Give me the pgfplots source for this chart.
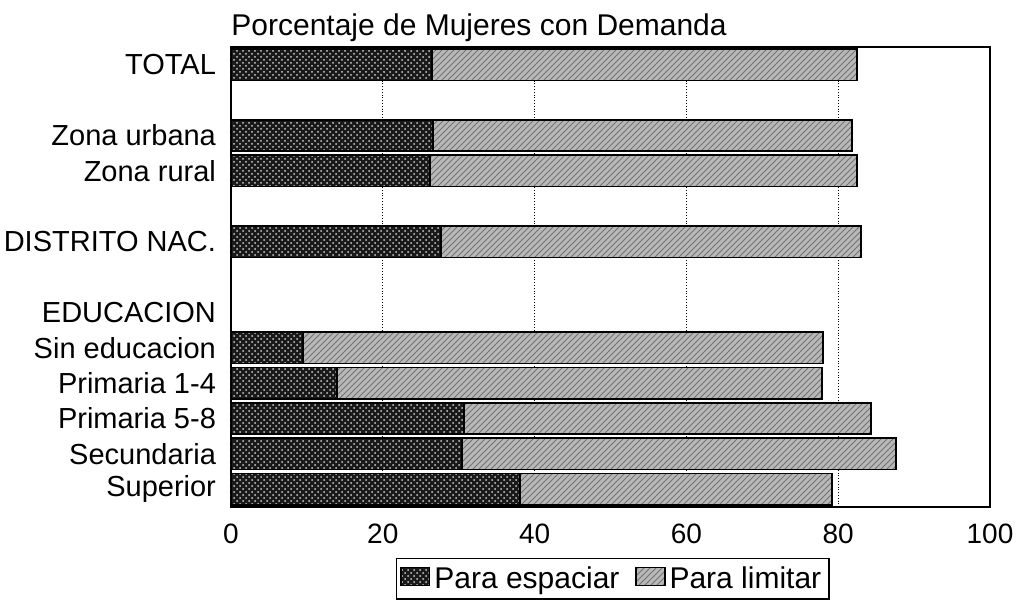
\documentclass[border=0pt]{standalone}
\usepackage{fontspec}
\setmainfont{Liberation Sans}
\usepackage{pgfplots}
\pgfplotsset{compat=1.18}
\usetikzlibrary{patterns}

\begin{document}
\begin{tikzpicture}
\useasboundingbox (-115.5pt,-46.5pt) rectangle (393pt,253.5pt);
\begin{axis}[name=ax,scale only axis,width=379.5pt,height=230pt,
xbar stacked,bar width=0.89,y dir=reverse,ymin=-0.5,ymax=12.5,xmin=0,xmax=100,
xtick={0,20,...,100},
ytick={0,2,3,5,7,8,9,10,11,12},
yticklabels={TOTAL,Zona urbana,Zona rural,DISTRITO NAC.,EDUCACION,Sin educacion,Primaria 1-4,Primaria 5-8,Secundaria,Superior},
major tick length=0,axis line style={line width=0.9pt},
xmajorgrids,grid style={densely dotted,black,line width=0.5pt},
/pgf/number format/assume math mode=true,
xticklabel style={font=\fontsize{14}{17}\selectfont},xticklabel shift=5pt,
yticklabel style={font=\fontsize{14.5}{17}\selectfont},yticklabel shift=4pt,
every axis title shift=0pt,
title={Porcentaje de Mujeres con Demanda},
title style={font=\fontsize{15}{18}\selectfont,at={(0,1)},anchor=base west,yshift=6pt,inner sep=0pt},
area legend,
legend style={at={(0.503,-0.11)},anchor=north,legend columns=2,draw=black,line width=0.8pt,
font=\fontsize{15}{18}\selectfont,inner sep=2pt,
/tikz/every even column/.append style={column sep=6pt}},
legend image code/.code={\draw[#1] (0cm,-0.12cm) rectangle (0.5cm,0.2cm);}]
\addplot[draw=black,line width=0.8pt,fill=black!90,postaction={pattern=crosshatch dots,pattern color=white!80!black}]
coordinates {(26.5,0)(26.6,2)(26.2,3)(27.7,5)(9.5,8)(14.0,9)(30.7,10)(30.4,11)(38.1,12)};
\addplot[draw=black,line width=0.8pt,fill=black!28,postaction={pattern=north east lines,pattern color=black!55}]
coordinates {(56.0,0)(55.2,2)(56.3,3)(55.3,5)(68.5,8)(63.9,9)(53.6,10)(57.2,11)(41.1,12)};
\legend{Para espaciar,Para limitar}
\end{axis}
\end{tikzpicture}
\end{document}
